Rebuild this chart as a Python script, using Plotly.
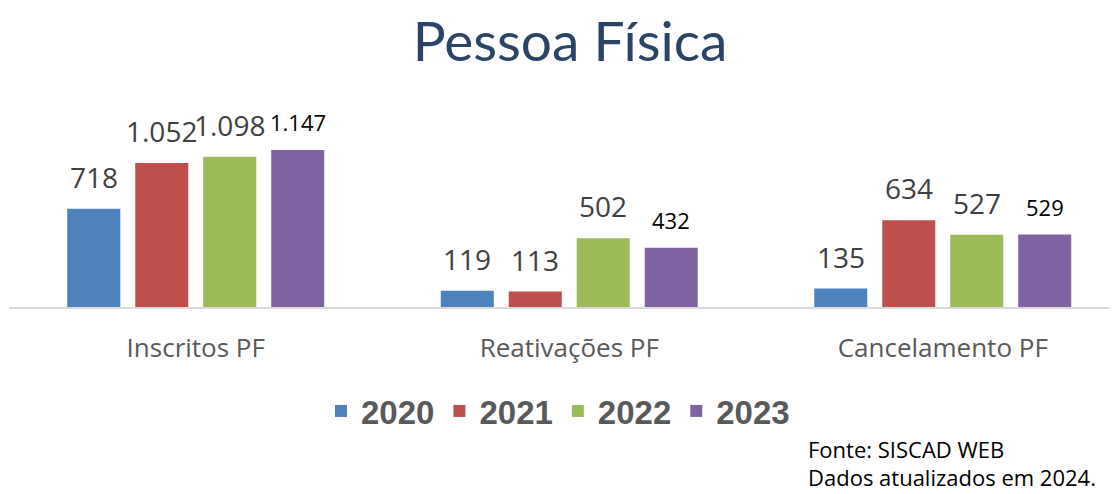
import plotly.graph_objects as go

categories = ["Inscritos PF", "Reativações PF", "Cancelamento PF"]
years = ["2020", "2021", "2022", "2023"]
v2020 = [718, 119, 135]
v2021 = [1052, 113, 634]
v2022 = [1098, 502, 527]
v2023 = [1147, 432, 529]
labels2020 = ["718", "119", "135"]
labels2021 = ["1.052", "113", "634"]
labels2022 = ["1.098", "502", "527"]
labels2023 = ["1.147", "432", "529"]
footnotes = ["Fonte: SISCAD WEB", "Dados atualizados em 2024."]

series = [v2020, v2021, v2022, v2023]
series_labels = [labels2020, labels2021, labels2022, labels2023]
colors = ["#4F81BD", "#C0504D", "#9BBB59", "#8064A2"]

# page has an 8px body margin: work in page pixels and convert
OFF = 8
W, H = 1117 - OFF, 494 - OFF
PLOT_L, PLOT_R, PLOT_T, PLOT_B = 9, 1117, 100, 307  # page pixels
ML, MR, MT, MB = PLOT_L - OFF, 1117 - PLOT_R, PLOT_T - OFF, (H + OFF) - PLOT_B
PW, PH = PLOT_R - PLOT_L, PLOT_B - PLOT_T
CAT_W = 373.5
bargap = 0.272
bargroupgap = 0.22
xpos = list(range(len(categories)))


def px_to_paper(xp, yp):
    return (xp - PLOT_L) / PW, (PLOT_B - yp) / PH


fig = go.Figure()
for yr, vals, col in zip(years, series, colors):
    fig.add_trace(go.Bar(x=xpos, y=vals, name=yr, marker=dict(color=col, line=dict(width=0))))

slot = (1 - bargap) / len(years)
for j, (vals, labs) in enumerate(zip(series, series_labels)):
    for i, (v, t) in enumerate(zip(vals, labs)):
        last = j == len(years) - 1
        fig.add_annotation(
            x=i + (j - (len(years) - 1) / 2) * slot, y=v, xref="x", yref="y",
            text=t, showarrow=False, yanchor="bottom", yshift=11,
            font=dict(family="Open Sans", size=22 if last else 28,
                      color="#000000" if last else "#404040"),
        )

for k, line in enumerate(footnotes):
    fx, fy = px_to_paper(806, 449 + 28 * k)
    fig.add_annotation(x=fx, y=fy, xref="paper", yref="paper", text=line,
                       showarrow=False, xanchor="left", yanchor="middle",
                       font=dict(family="Open Sans", size=22, color="#000000"))

lx, ly = px_to_paper(558, 411)
fig.update_layout(
    width=W, height=H,
    margin=dict(l=ML, r=MR, t=MT, b=MB, autoexpand=False),
    paper_bgcolor="white", plot_bgcolor="white",
    barmode="group", bargap=bargap, bargroupgap=bargroupgap,
    title=dict(text="Pessoa Física", x=(570 - OFF) / W, xanchor="center",
               y=1 - (42 - OFF) / H, yanchor="middle",
               font=dict(family="Lato", size=55, color="#2A4466")),
    xaxis=dict(range=[-0.5, -0.5 + PW / CAT_W], tickvals=xpos, ticktext=categories,
               showline=True, linecolor="#D9D9D9", linewidth=2, ticks="",
               showgrid=False, zeroline=False, ticklabelstandoff=17,
               tickfont=dict(family="Open Sans", size=26, color="#595959")),
    yaxis=dict(range=[0, 1512], visible=False, showgrid=False, zeroline=False),
    legend=dict(orientation="h", x=lx, xanchor="center", y=ly, yanchor="middle",
                font=dict(family="Liberation Sans", size=33, color="#595959", weight="bold"),
                itemclick=False),
    showlegend=True,
)

fig.write_html("out.html")
